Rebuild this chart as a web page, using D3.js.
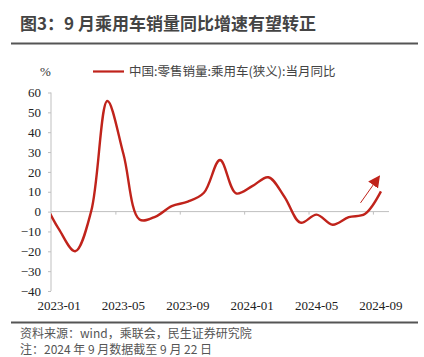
<!DOCTYPE html>
<html><head><meta charset="utf-8">
<script src="https://cdn.jsdelivr.net/npm/d3@7"></script>
<style>
body{margin:0;background:#fff;}
svg{display:block;}
</style></head>
<body>
<svg id="c" width="424" height="357"></svg>
<script>
// Data (index 0 = 2023-01; a 2022-12 point lies just left of the plot area and is clipped)
const months = ["2022-12","2023-01","2023-02","2023-03","2023-04","2023-05","2023-06","2023-07","2023-08","2023-09","2023-10","2023-11","2023-12",
  "2024-01","2024-02","2024-03","2024-04","2024-05","2024-06","2024-07","2024-08","2024-09"];
const yoy = [6,-9,-20,0.3,55.7,29,-4,-2.5,2.8,5,9.5,26,9.2,12.8,17.3,7.5,-5.6,-1.5,-6.6,-2.8,-1.2,10.2];
const xTickLabels = ["2023-01","2023-05","2023-09","2024-01","2024-05","2024-09"];
const yTicks = [-40,-30,-20,-10,0,10,20,30,40,50,60];
const seriesName = "中国:零售销量:乘用车(狭义):当月同比";
const arrowFrom = {i:18.73, v:4.4};
const arrowTo = {i:19.9, v:17.8};

const svg = d3.select("#c");
const red = "#c0231b";
const idx = m => months.indexOf(m) - 1;

const x = d3.scaleLinear().domain([-0.5, 20.5]).range([51, 389]);
const y = d3.scaleLinear().domain([-40, 60]).range([291, 92.5]);

// Title
svg.append("text").attr("x",20).attr("y",30)
  .attr("font-family","'Noto Sans CJK SC', sans-serif").attr("font-weight","bold")
  .attr("font-size",17).attr("fill","#444").text("图3：9 月乘用车销量同比增速有望转正");
svg.append("line").attr("x1",11).attr("x2",418).attr("y1",43.5).attr("y2",43.5)
  .attr("stroke","#555").attr("stroke-width",1.8);

// Legend
svg.append("text").attr("x",45.5).attr("y",76).attr("text-anchor","middle")
  .attr("font-family","'Liberation Serif', serif").attr("font-size",13).attr("fill","#333").text("%");
svg.append("line").attr("x1",93).attr("x2",124).attr("y1",71.5).attr("y2",71.5)
  .attr("stroke",red).attr("stroke-width",2.2);
svg.append("text").attr("x",129).attr("y",76)
  .attr("font-family","'Noto Sans CJK SC', sans-serif").attr("font-size",12.5).attr("fill","#444").text(seriesName);

// Y axis
const yAxis = svg.append("g").attr("transform",`translate(${x(-0.5)},0)`)
  .call(d3.axisLeft(y).tickValues(yTicks).tickSize(3).tickFormat(d3.format("d")));
yAxis.select(".domain").attr("stroke","#bfbfbf").attr("d",`M0,${y(60)}V${y(-40)}`);
yAxis.selectAll(".tick line").attr("stroke","#bfbfbf");
yAxis.selectAll(".tick text").attr("x",-10).attr("font-family","'Liberation Serif', serif")
  .attr("font-size",13).attr("fill","#222");

// X axis at zero
const xAxis = svg.append("g").attr("transform",`translate(0,${y(0)})`)
  .call(d3.axisBottom(x).tickValues([3.5,7.5,11.5,15.5,19.5]).tickSize(3).tickFormat(""));
xAxis.select(".domain").attr("stroke","#bfbfbf").attr("d",`M${x(-0.5)},0H${x(20.5)}`);
xAxis.selectAll(".tick line").attr("stroke","#bfbfbf");

// X labels along bottom
svg.append("g").selectAll("text").data(xTickLabels).join("text")
  .attr("x",d=>x(idx(d))).attr("y",310).attr("text-anchor","middle")
  .attr("font-family","'Liberation Serif', serif").attr("font-size",13).attr("fill","#222").text(d=>d);

// Line (clipped to plot area)
svg.append("clipPath").attr("id","pc").append("rect")
  .attr("x",x(-0.5)).attr("y",0).attr("width",x(20.5)-x(-0.5)+5).attr("height",357);
const line = d3.line().x((d,i)=>x(i-1)).y(d=>y(d)).curve(d3.curveCatmullRom.alpha(0.5));
svg.append("path").datum(yoy).attr("clip-path","url(#pc)").attr("d",line)
  .attr("fill","none").attr("stroke",red).attr("stroke-width",2.4).attr("stroke-linejoin","round");

// Arrow annotation
const defs = svg.append("defs");
defs.append("marker").attr("id","ah").attr("viewBox","0 0 10 10").attr("refX",9).attr("refY",5)
  .attr("markerWidth",12).attr("markerHeight",12).attr("markerUnits","userSpaceOnUse").attr("orient","auto")
  .append("path").attr("d","M0,0L10,5L0,10Z").attr("fill",red);
svg.append("line").attr("x1",x(arrowFrom.i)).attr("y1",y(arrowFrom.v))
  .attr("x2",x(arrowTo.i)).attr("y2",y(arrowTo.v))
  .attr("stroke",red).attr("stroke-width",1).attr("marker-end","url(#ah)");

// Footer
svg.append("line").attr("x1",11).attr("x2",418).attr("y1",322.5).attr("y2",322.5)
  .attr("stroke","#555").attr("stroke-width",1.8);
svg.append("text").attr("x",20).attr("y",338)
  .attr("font-family","'Noto Sans CJK SC', sans-serif").attr("font-size",12).attr("fill","#555")
  .text("资料来源：wind，乘联会，民生证券研究院");
svg.append("text").attr("x",20).attr("y",354)
  .attr("font-family","'Noto Sans CJK SC', sans-serif").attr("font-size",12).attr("fill","#555")
  .text("注：2024 年 9 月数据截至 9 月 22 日");
</script>
</body></html>
